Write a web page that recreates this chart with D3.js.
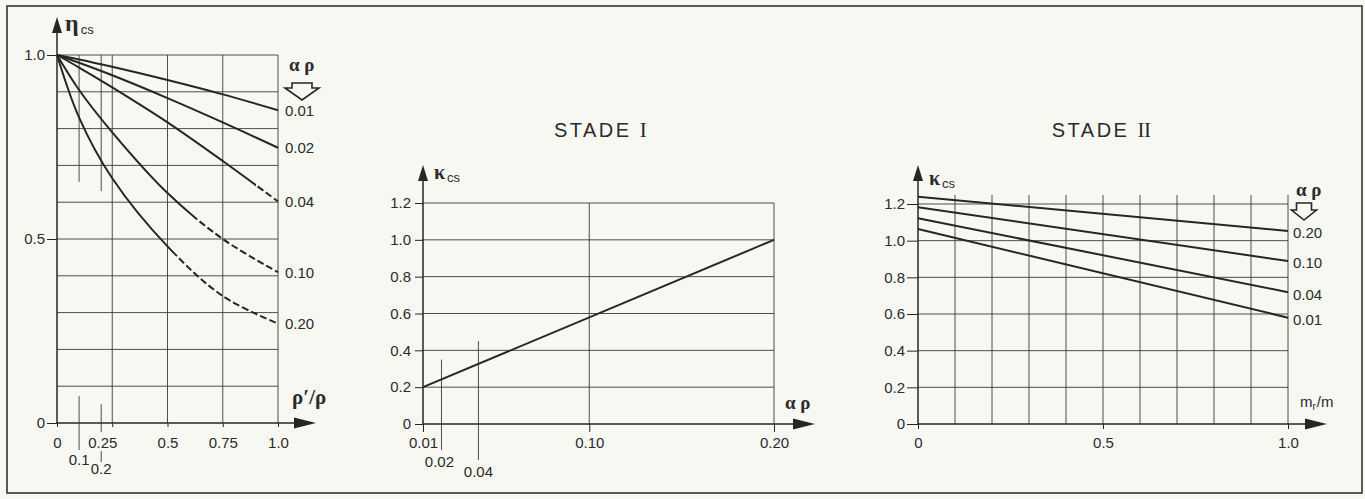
<!DOCTYPE html>
<html>
<head>
<meta charset="utf-8">
<script src="https://cdn.jsdelivr.net/npm/d3@7/dist/d3.min.js"></script>
<style>
  body { margin: 0; background: #f8f8f3; }
  svg text { font-family: "Liberation Sans", Arial, sans-serif; fill: #2b2b2b; }
  .greek { font-family: "Liberation Serif", "DejaVu Serif", serif; font-weight: bold; }
</style>
</head>
<body>
<div class="canva"></div>
<script>
// left chart: eta_cs against rho'/rho, one curve per alpha*rho
const etaX = [0, 0.1, 0.25, 0.5, 0.75, 1.0];
const etaLabels = ["0.01", "0.02", "0.04", "0.10", "0.20"];
const etaValues = [
    [1, 0.988, 0.968, 0.932, 0.893, 0.85],
    [1, 0.979, 0.945, 0.883, 0.817, 0.748],
    [1, 0.966, 0.912, 0.817, 0.712, 0.602],
    [1, 0.905, 0.790, 0.625, 0.500, 0.41],
    [1, 0.830, 0.665, 0.480, 0.345, 0.27]
];
const etaDashFrom = [null, null, 0.9, 0.62, 0.53];   // dashed part of the curve
const etaXTicks = [0, 0.25, 0.5, 0.75, 1.0];
const etaXTickLabels = ["0", "0.25", "0.5", "0.75", "1.0"];
const etaYTicks = [0, 0.5, 1.0];
const etaGridY = [0.1, 0.2, 0.3, 0.4, 0.5, 0.6, 0.7, 0.8, 0.9, 1.0];

// middle chart: stade I
const s1X = [0.01, 0.20];
const s1K = [0.2, 1.0];
const s1XTicks = [0.01, 0.10, 0.20];
const s1XMinor = [0.02, 0.04];
const s1YTicks = [0, 0.2, 0.4, 0.6, 0.8, 1.0, 1.2];

// right chart: stade II
const s2X = [0, 1.0];
const s2Labels = ["0.20", "0.10", "0.04", "0.01"];
const s2Values = [
    [1.24, 1.053],
    [1.182, 0.889],
    [1.122, 0.719],
    [1.064, 0.58]
];
const s2XTicks = [0, 0.5, 1.0];
const s2GridX = [0.1, 0.2, 0.3, 0.4, 0.5, 0.6, 0.7, 0.8, 0.9, 1.0];
const s2YTicks = [0, 0.2, 0.4, 0.6, 0.8, 1.0, 1.2];

const ink = '#262626';
const gridInk = '#3a3a3a';
const fs = 15;

const svg = d3.select('.canva').append('svg')
    .attr('width', 1365)
    .attr('height', 499);

svg.append('rect').attr('width', 1365).attr('height', 499).attr('fill', '#f8f8f3');
svg.append('rect')
    .attr('x', 7).attr('y', 6).attr('width', 1355).attr('height', 487)
    .attr('fill', 'none').attr('stroke', '#333').attr('stroke-width', 1.6);

const fmt = d => d === 0 ? "0" : d3.format(".1f")(d);
const fmt2 = d => d3.format(".2f")(d);

function vline(g, x, y1, y2, w) {
    g.append('line').attr('x1', x).attr('x2', x).attr('y1', y1).attr('y2', y2)
        .attr('stroke', gridInk).attr('stroke-width', w || 0.9);
}
function hline(g, y, x1, x2, w) {
    g.append('line').attr('x1', x1).attr('x2', x2).attr('y1', y).attr('y2', y)
        .attr('stroke', gridInk).attr('stroke-width', w || 0.9);
}
// axis with filled arrow head
function yArrow(g, x, yBottom, yTip) {
    g.append('line').attr('x1', x).attr('x2', x).attr('y1', yBottom).attr('y2', yTip + 8)
        .attr('stroke', ink).attr('stroke-width', 1.5);
    g.append('path')
        .attr('d', `M${x},${yTip} L${x - 5},${yTip + 16} L${x + 5},${yTip + 16} Z`)
        .attr('fill', ink);
}
function xArrow(g, y, xLeft, xTip) {
    g.append('line').attr('x1', xLeft).attr('x2', xTip - 8).attr('y1', y).attr('y2', y)
        .attr('stroke', ink).attr('stroke-width', 1.5);
    g.append('path')
        .attr('d', `M${xTip},${y} L${xTip - 22},${y - 5.5} L${xTip - 22},${y + 5.5} Z`)
        .attr('fill', ink);
}
// hollow arrow below the alpha-rho label
function hollowArrow(g, cx, top, sw, sh, tw, th) {
    g.append('path')
        .attr('d', `M${cx - sw},${top} L${cx + sw},${top} L${cx + sw},${top + sh} L${cx + tw},${top + sh}
                    L${cx},${top + sh + th} L${cx - tw},${top + sh} L${cx - sw},${top + sh} Z`)
        .attr('fill', 'none').attr('stroke', ink).attr('stroke-width', 1.6)
        .attr('stroke-linejoin', 'miter');
}
function styleAxis(sel) {
    sel.select('.domain').remove();
    sel.selectAll('.tick line').attr('stroke', ink).attr('stroke-width', 1);
    sel.selectAll('.tick text').attr('font-size', fs).attr('fill', '#2b2b2b')
        .style('font-family', '"Liberation Sans", Arial, sans-serif');
}
function subLabel(g, x, y, main, sub, mainSize) {
    const t = g.append('text').attr('x', x).attr('y', y);
    t.append('tspan').attr('class', 'greek').attr('font-size', mainSize).text(main);
    t.append('tspan').attr('font-size', 13).attr('dx', 2).attr('dy', 3).text(sub);
}
function stadeTitle(g, x, numeral) {
    const t = g.append('text').attr('x', x).attr('y', 137).attr('text-anchor', 'middle')
        .attr('font-size', 20).attr('letter-spacing', 2.5);
    t.append('tspan').text('STADE  ');
    t.append('tspan').style('font-family', '"Liberation Serif", "DejaVu Serif", serif')
        .attr('font-size', 21).attr('letter-spacing', -0.6).text(numeral);
}

/* ---------- left chart ---------- */
const gL = svg.append('g');
const xL = d3.scaleLinear().domain([0, 1]).range([57, 278]);
const yL = d3.scaleLinear().domain([0, 1]).range([423, 55]);

etaGridY.forEach(v => hline(gL, yL(v), xL(0), xL(1)));
etaXTicks.slice(1).forEach(v => vline(gL, xL(v), yL(1), yL(0)));
// partial lines at 0.1 and 0.2
vline(gL, xL(0.1), yL(1), yL(0.655));
vline(gL, xL(0.2), yL(1), yL(0.63));
vline(gL, xL(0.1), yL(0.073), yL(0) + 27);
vline(gL, xL(0.2), yL(0.051), yL(0) + 9);
vline(gL, xL(0.2), yL(0) + 28, yL(0) + 39);

gL.append('g').attr('transform', `translate(${xL(0)},0)`)
    .call(d3.axisLeft(yL).tickValues(etaYTicks).tickSize(10).tickPadding(2).tickFormat(fmt))
    .call(styleAxis);
gL.append('g').attr('transform', `translate(0,${yL(0)})`)
    .call(d3.axisBottom(xL).tickValues(etaXTicks).tickSize(4).tickPadding(10)
        .tickFormat((d, i) => etaXTickLabels[i]))
    .call(styleAxis)
    .selectAll('.tick text').attr('dx', (d) => d === 0.25 ? -10 : 0);

gL.append('text').attr('x', xL(0.1)).attr('y', 465).attr('text-anchor', 'middle')
    .attr('font-size', fs).text('0.1');
gL.append('text').attr('x', xL(0.2)).attr('y', 474).attr('text-anchor', 'middle')
    .attr('font-size', fs).text('0.2');

const lineL = d3.line().x((d, i) => xL(etaX[i])).y(d => yL(d)).curve(d3.curveCatmullRom.alpha(0.5));
const defs = svg.append('defs');
etaValues.forEach((vals, k) => {
    const cut = etaDashFrom[k];
    if (cut === null) {
        gL.append('path').attr('d', lineL(vals)).attr('fill', 'none')
            .attr('stroke', ink).attr('stroke-width', 2);
    } else {
        defs.append('clipPath').attr('id', 'solid' + k).append('rect')
            .attr('x', 0).attr('y', 0).attr('width', xL(cut)).attr('height', 499);
        defs.append('clipPath').attr('id', 'dash' + k).append('rect')
            .attr('x', xL(cut)).attr('y', 0).attr('width', 400).attr('height', 499);
        gL.append('path').attr('d', lineL(vals)).attr('fill', 'none')
            .attr('stroke', ink).attr('stroke-width', 2).attr('clip-path', `url(#solid${k})`);
        gL.append('path').attr('d', lineL(vals)).attr('fill', 'none')
            .attr('stroke', ink).attr('stroke-width', 2).attr('stroke-dasharray', '7,3')
            .attr('clip-path', `url(#dash${k})`);
    }
    gL.append('text').attr('x', xL(1) + 7).attr('y', yL(vals[vals.length - 1]))
        .attr('dy', '0.36em').attr('font-size', fs).text(etaLabels[k]);
});

yArrow(gL, xL(0), yL(0), 17);
xArrow(gL, yL(0), xL(0), 316);
subLabel(gL, 65, 31, 'η', 'cs', 24);
gL.append('text').attr('class', 'greek').attr('x', 292).attr('y', 404)
    .attr('font-size', 21).text('ρ′/ρ');
gL.append('text').attr('class', 'greek').attr('x', 289).attr('y', 71)
    .attr('font-size', 19).text('α ρ');
hollowArrow(gL, xL(1) + 24, 83, 10, 5, 17, 12);

/* ---------- middle chart: STADE I ---------- */
const gM = svg.append('g');
const xM = d3.scaleLinear().domain([0.01, 0.20]).range([423, 774]);
const yM = d3.scaleLinear().domain([0, 1.2]).range([424, 203]);

s1YTicks.slice(1).forEach(v => hline(gM, yM(v), xM(0.01), xM(0.20)));
s1XTicks.slice(1).forEach(v => vline(gM, xM(v), yM(1.2), yM(0)));
vline(gM, xM(s1XMinor[0]), yM(0.35), yM(0) + 26);
vline(gM, xM(s1XMinor[1]), yM(0.45), yM(0) + 36);

gM.append('g').attr('transform', `translate(${xM(0.01)},0)`)
    .call(d3.axisLeft(yM).tickValues(s1YTicks).tickSize(8).tickPadding(4).tickFormat(fmt))
    .call(styleAxis);
gM.append('g').attr('transform', `translate(0,${yM(0)})`)
    .call(d3.axisBottom(xM).tickValues(s1XTicks).tickSize(8).tickPadding(5).tickFormat(fmt2))
    .call(styleAxis);
gM.append('text').attr('x', xM(s1XMinor[0]) - 2).attr('y', 467).attr('text-anchor', 'middle')
    .attr('font-size', fs).text(fmt2(s1XMinor[0]));
gM.append('text').attr('x', xM(s1XMinor[1])).attr('y', 477).attr('text-anchor', 'middle')
    .attr('font-size', fs).text(fmt2(s1XMinor[1]));

gM.append('path')
    .attr('d', d3.line().x((d, i) => xM(s1X[i])).y(d => yM(d))(s1K))
    .attr('fill', 'none').attr('stroke', ink).attr('stroke-width', 2);

yArrow(gM, xM(0.01), yM(0), 165);
xArrow(gM, yM(0), xM(0.01), 815);
subLabel(gM, 434, 179, 'κ', 'cs', 20);
gM.append('text').attr('class', 'greek').attr('x', 785).attr('y', 409)
    .attr('font-size', 19).text('α ρ');
stadeTitle(gM, 600, 'I');

/* ---------- right chart: STADE II ---------- */
const gR = svg.append('g');
const xR = d3.scaleLinear().domain([0, 1]).range([918, 1288]);
const yR = d3.scaleLinear().domain([0, 1.2]).range([424, 204]);

s2YTicks.slice(1).forEach(v => hline(gR, yR(v), xR(0), xR(1)));
s2GridX.forEach(v => vline(gR, xR(v), yR(1.2) - 9, yR(0)));

gR.append('g').attr('transform', `translate(${xR(0)},0)`)
    .call(d3.axisLeft(yR).tickValues(s2YTicks).tickSize(11).tickPadding(2).tickFormat(fmt))
    .call(styleAxis);
gR.append('g').attr('transform', `translate(0,${yR(0)})`)
    .call(d3.axisBottom(xR).tickValues(s2XTicks).tickSize(5).tickPadding(8).tickFormat(fmt))
    .call(styleAxis);

const lineR = d3.line().x((d, i) => xR(s2X[i])).y(d => yR(d));
s2Values.forEach((vals, k) => {
    gR.append('path').attr('d', lineR(vals)).attr('fill', 'none')
        .attr('stroke', ink).attr('stroke-width', 2);
    gR.append('text').attr('x', xR(1) + 5).attr('y', yR(vals[1]) + 2)
        .attr('dy', '0.36em').attr('font-size', fs).text(s2Labels[k]);
});

yArrow(gR, xR(0), yR(0), 165);
xArrow(gR, yR(0), xR(0), 1327);
subLabel(gR, 929, 185, 'κ', 'cs', 20);
gR.append('text').attr('class', 'greek').attr('x', 1296).attr('y', 196)
    .attr('font-size', 19).text('α ρ');
hollowArrow(gR, xR(1) + 16, 203, 7.5, 7, 12.5, 10);
const mr = gR.append('text').attr('x', 1300).attr('y', 407).attr('font-size', fs);
mr.append('tspan').text('m');
mr.append('tspan').attr('font-size', 10).attr('dy', 3).text('r');
mr.append('tspan').attr('dy', -3).attr('dx', 1).text('/m');
stadeTitle(gR, 1101, 'II');
</script>
</body>
</html>
